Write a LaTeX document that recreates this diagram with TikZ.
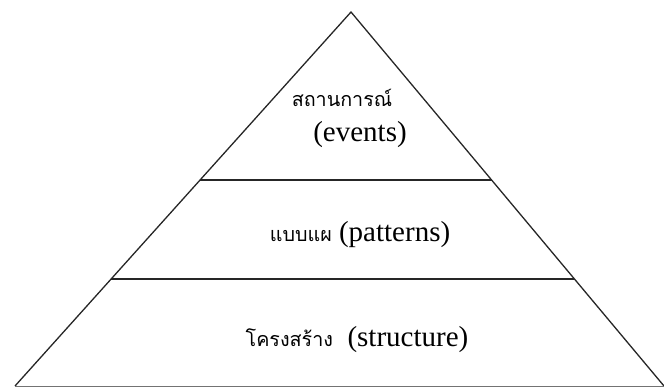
\documentclass[tikz,border=0pt]{standalone}
\usepackage{fontspec}
\setmainfont{Liberation Serif}
\newfontfamily\thaifont[Script=Thai,Scale=0.68]{Loma}
\usetikzlibrary{calc}

\begin{document}
\begin{tikzpicture}[x=1pt, y=-1pt,
            edge/.style = {line width=1.3pt, draw=black!85},
            every node/.style = {font=\fontsize{29}{32}\selectfont, inner sep=0pt}
            ]
            \useasboundingbox (0,0) rectangle (664,389);
            % corners of the pyramid
            \coordinate (apex) at (351,12);
            \coordinate (left) at (15,386);
            \coordinate (right) at (664,386);
            \draw[edge] (left) -- (apex) -- (right);
            \draw[draw=black!55, line width=0.8pt] (left) -- (right);
            % dividing lines between the levels
            \draw[edge] ($(apex)!0.449!(left)$) -- ($(apex)!0.449!(right)$);
            \draw[edge] ($(apex)!0.714!(left)$) -- ($(apex)!0.714!(right)$);
            % labels
            \node (events th) at (342,98) {\thaifont สถานการณ์};
            \node (events) at (360,135) {(events)};
            \node (patterns) at (360,235) {{\thaifont แบบแผ} (patterns)};
            \node (structure) at (357,340) {{\thaifont โครงสร้าง}\ \ (structure)};
        \end{tikzpicture}
\end{document}
